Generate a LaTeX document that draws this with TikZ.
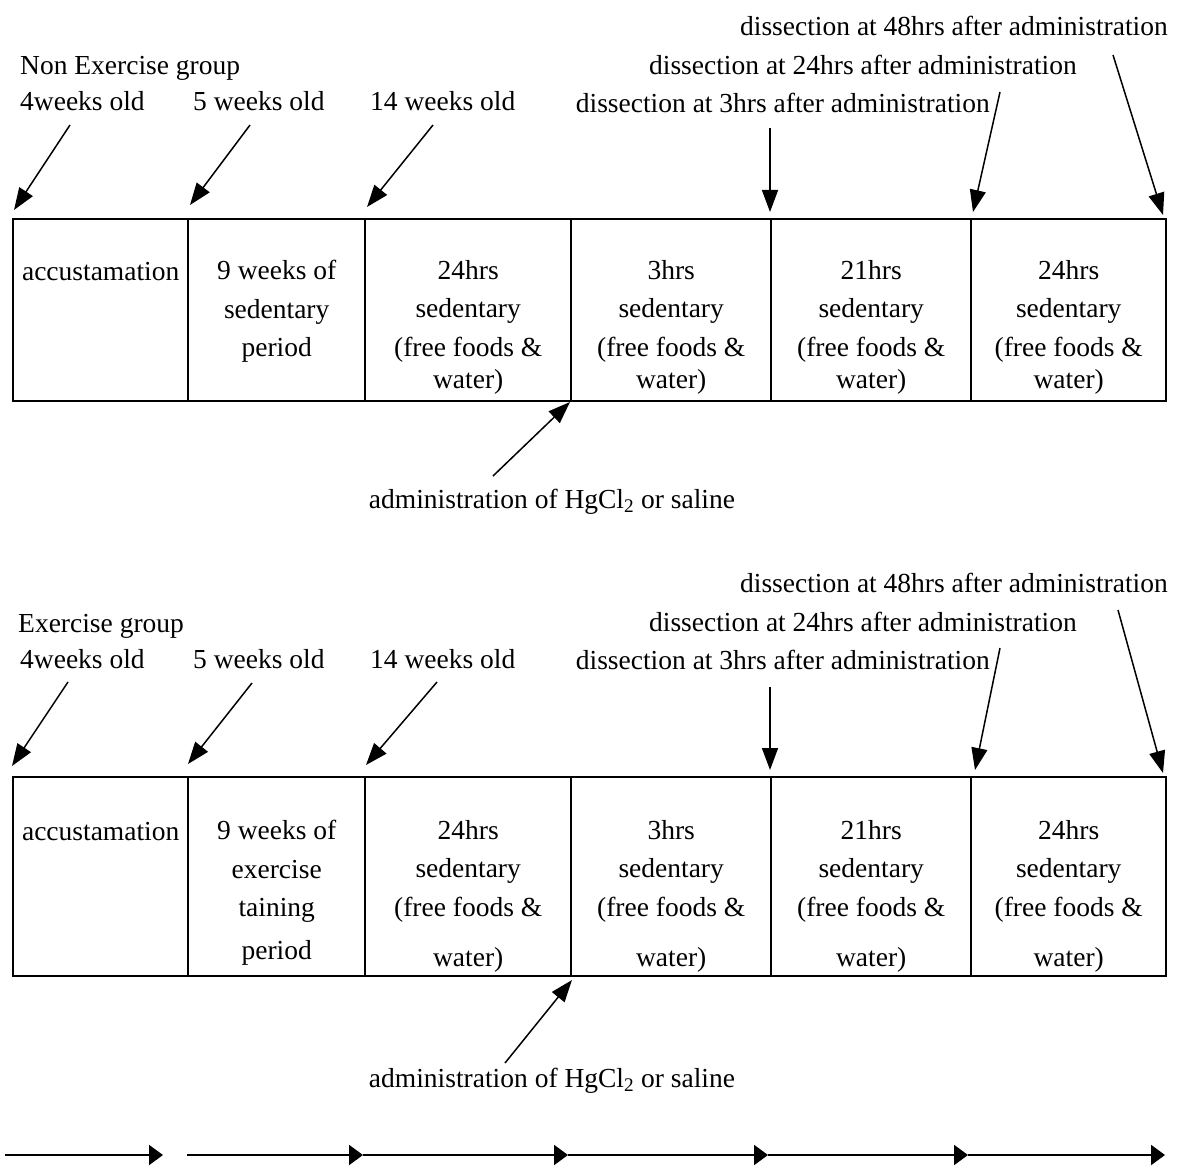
\documentclass[tikz,border=0pt]{standalone}
\usepackage{fontspec}
\setmainfont{Liberation Serif}
\usetikzlibrary{arrows.meta}

\tikzset{
  lbl/.style={inner sep=0pt, font=\fontsize{27.5}{38.5}\selectfont},
  % the strut fixes the top of the first line 20pt above its baseline
  celltext/.style={lbl, align=center, anchor=north,
    execute at begin node={\rule{0pt}{20pt}}},
  cell/.style={draw, line width=2.4pt, inner sep=0pt, anchor=north west},
  pointer/.style={line width=1.5pt, -{Triangle[length=22pt,width=16pt]}},
  stage/.style={line width=2pt, -{Triangle[length=14pt,width=20pt]}},
}

\begin{document}
\begin{tikzpicture}[x=1pt, y=-1pt]
\useasboundingbox (0,0) rectangle (1177,1169);

% ---------------- Non exercise group ----------------
\node[lbl, anchor=base west] (ntitle) at (20,75) {Non Exercise group};
\node[lbl, anchor=base west] (nw4) at (20,111) {4weeks old};
\node[lbl, anchor=base west] (nw5) at (193,111) {5 weeks old};
\node[lbl, anchor=base west] (nw14) at (370,111) {14 weeks old};
\node[lbl, anchor=base east] (nd48) at (1168,36) {dissection at 48hrs after administration};
\node[lbl, anchor=base east] (nd24) at (1077,75) {dissection at 24hrs after administration};
\node[lbl, anchor=base east] (nd3) at (990,113) {dissection at 3hrs after administration};

\node[cell, minimum width=175, minimum height=182] (n1) at (12,218) {};
\node[cell, minimum width=177, minimum height=182] (n2) at (187,218) {};
\node[cell, minimum width=206, minimum height=182] (n3) at (364,218) {};
\node[cell, minimum width=200, minimum height=182] (n4) at (570,218) {};
\node[cell, minimum width=200, minimum height=182] (n5) at (770,218) {};
\node[cell, minimum width=195, minimum height=182] (n6) at (970,218) {};

\node[celltext] (n1t) at ([yshift=-42pt]n1.north) {accustamation};
\node[celltext] (n2t) at ([yshift=-42pt]n2.north) {9 weeks of\\sedentary\\period};
\node[celltext] (n3t) at ([yshift=-42pt]n3.north) {24hrs\\sedentary\\(free foods \&\\[-6.5pt]water)};
\node[celltext] (n4t) at ([yshift=-42pt]n4.north) {3hrs\\sedentary\\(free foods \&\\[-6.5pt]water)};
\node[celltext] (n5t) at ([yshift=-42pt]n5.north) {21hrs\\sedentary\\(free foods \&\\[-6.5pt]water)};
\node[celltext] (n6t) at ([yshift=-42pt]n6.north) {24hrs\\sedentary\\(free foods \&\\[-6.5pt]water)};

\node[lbl, anchor=base] (nadm) at (552,508) {administration of HgCl\textsubscript{2} or saline};

\coordinate (na4s) at (70,125);    \coordinate (na4e) at (14,210);
\coordinate (na5s) at (250,125);   \coordinate (na5e) at (190,205);
\coordinate (na14s) at (433,125);  \coordinate (na14e) at (367,207);
\coordinate (nd3s) at (770,128);   \coordinate (nd3e) at (770,212);
\coordinate (nd24s) at (1000,92);  \coordinate (nd24e) at (973,212);
\coordinate (nd48s) at (1113,55);  \coordinate (nd48e) at (1163,215);
\coordinate (nadms) at (493,476);  \coordinate (nadme) at (570,402);

\draw[pointer] (na4s) -- (na4e);
\draw[pointer] (na5s) -- (na5e);
\draw[pointer] (na14s) -- (na14e);
\draw[pointer] (nd3s) -- (nd3e);
\draw[pointer] (nd24s) -- (nd24e);
\draw[pointer] (nd48s) -- (nd48e);
\draw[pointer] (nadms) -- (nadme);

% ---------------- Exercise group ----------------
\node[lbl, anchor=base west] (etitle) at (18,632) {Exercise group};
\node[lbl, anchor=base west] (ew4) at (20,668) {4weeks old};
\node[lbl, anchor=base west] (ew5) at (193,668) {5 weeks old};
\node[lbl, anchor=base west] (ew14) at (370,668) {14 weeks old};
\node[lbl, anchor=base east] (ed48) at (1168,592) {dissection at 48hrs after administration};
\node[lbl, anchor=base east] (ed24) at (1077,631) {dissection at 24hrs after administration};
\node[lbl, anchor=base east] (ed3) at (990,669) {dissection at 3hrs after administration};

\node[cell, minimum width=175, minimum height=199] (e1) at (12,776) {};
\node[cell, minimum width=177, minimum height=199] (e2) at (187,776) {};
\node[cell, minimum width=206, minimum height=199] (e3) at (364,776) {};
\node[cell, minimum width=200, minimum height=199] (e4) at (570,776) {};
\node[cell, minimum width=200, minimum height=199] (e5) at (770,776) {};
\node[cell, minimum width=195, minimum height=199] (e6) at (970,776) {};

\node[celltext] (e1t) at ([yshift=-44pt]e1.north) {accustamation};
\node[celltext] (e2t) at ([yshift=-44pt]e2.north) {9 weeks of\\exercise\\taining\\[4.5pt]period};
\node[celltext] (e3t) at ([yshift=-44pt]e3.north) {24hrs\\sedentary\\(free foods \&\\[11.5pt]water)};
\node[celltext] (e4t) at ([yshift=-44pt]e4.north) {3hrs\\sedentary\\(free foods \&\\[11.5pt]water)};
\node[celltext] (e5t) at ([yshift=-44pt]e5.north) {21hrs\\sedentary\\(free foods \&\\[11.5pt]water)};
\node[celltext] (e6t) at ([yshift=-44pt]e6.north) {24hrs\\sedentary\\(free foods \&\\[11.5pt]water)};

\node[lbl, anchor=base] (eadm) at (552,1087) {administration of HgCl\textsubscript{2} or saline};

\coordinate (ea4s) at (68,682);    \coordinate (ea4e) at (12,766);
\coordinate (ea5s) at (252,683);   \coordinate (ea5e) at (188,764);
\coordinate (ea14s) at (437,682);  \coordinate (ea14e) at (366,765);
\coordinate (ed3s) at (770,687);   \coordinate (ed3e) at (770,770);
\coordinate (ed24s) at (1000,648); \coordinate (ed24e) at (975,770);
\coordinate (ed48s) at (1118,610); \coordinate (ed48e) at (1163,773);
\coordinate (eadms) at (505,1063); \coordinate (eadme) at (572,980);

\draw[pointer] (ea4s) -- (ea4e);
\draw[pointer] (ea5s) -- (ea5e);
\draw[pointer] (ea14s) -- (ea14e);
\draw[pointer] (ed3s) -- (ed3e);
\draw[pointer] (ed24s) -- (ed24e);
\draw[pointer] (ed48s) -- (ed48e);
\draw[pointer] (eadms) -- (eadme);

% ---------------- time course arrows ----------------
\coordinate (t0) at (5,1155);
\coordinate (t1) at (163,1155);
\coordinate (t2) at (187,1155);
\coordinate (t3) at (363,1155);
\coordinate (t4) at (568,1155);
\coordinate (t5) at (768,1155);
\coordinate (t6) at (968,1155);
\coordinate (t7) at (1165,1155);

\draw[stage] (t0) -- (t1);
\draw[stage] (t2) -- (t3);
\draw[stage] (t3) -- (t4);
\draw[stage] (t4) -- (t5);
\draw[stage] (t5) -- (t6);
\draw[stage] (t6) -- (t7);
\end{tikzpicture}
\end{document}
